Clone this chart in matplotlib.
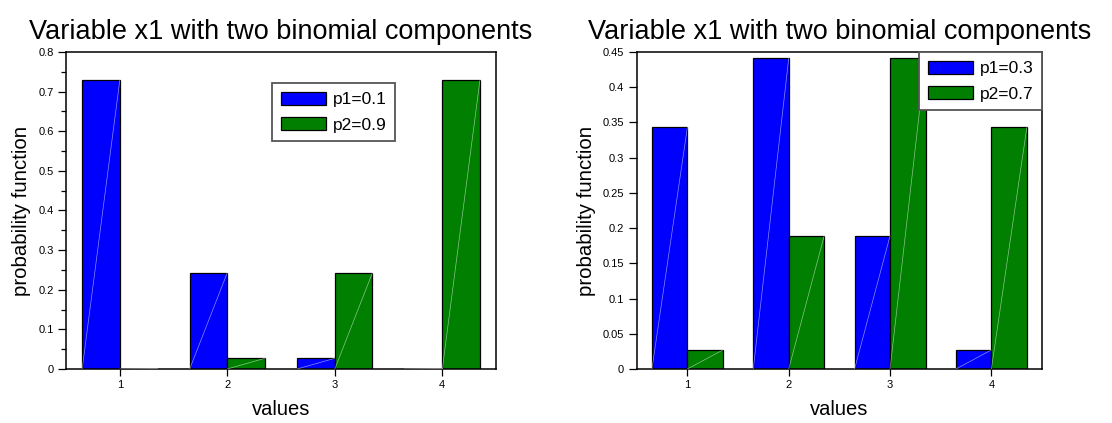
import numpy as np
import matplotlib.pyplot as plt

plt.rcParams['font.family'] = ['Liberation Sans', 'DejaVu Sans']

# Binomial pmf (n=3) para cada componente
valores = [1, 2, 3, 4]
izq_p1 = [0.729, 0.243, 0.027, 0.001]
izq_p2 = [0.001, 0.027, 0.243, 0.729]
der_p1 = [0.343, 0.441, 0.189, 0.027]
der_p2 = [0.027, 0.189, 0.441, 0.343]

titulo = 'Variable x1 with two binomial components'
AZUL = '#0000FF'
VERDE = '#007F00'
ANCHO = 0.35

fig = plt.figure(figsize=(11.12, 4.23), dpi=100)
ax1 = fig.add_axes([0.0594, 0.1277, 0.3867, 0.7494])
ax2 = fig.add_axes([0.5726, 0.1277, 0.3645, 0.7494])


def diagonal(ax, barras):
    # linea clara de esquina a esquina en cada barra
    for b in barras:
        x0, y0 = b.get_x(), b.get_y()
        ax.plot([x0, x0 + b.get_width()], [y0, y0 + b.get_height()],
                color='white', lw=0.5, alpha=0.55, zorder=3)


def plotAx(ax, s1, s2, lab1, lab2, ymax, ystep, menores):
    x = np.array(valores)
    b1 = ax.bar(x - ANCHO / 2, s1, ANCHO, color=AZUL, edgecolor='black', lw=0.9, label=lab1, zorder=2)
    b2 = ax.bar(x + ANCHO / 2, s2, ANCHO, color=VERDE, edgecolor='black', lw=0.9, label=lab2, zorder=2)
    diagonal(ax, b1)
    diagonal(ax, b2)
    ax.set_xlim(0.5, 4.5)
    ax.set_ylim(0, ymax)
    ax.set_xticks(valores)
    ax.set_yticks(np.arange(0, ymax + 1e-9, ystep))
    ax.set_yticklabels(['0'] + ['%g' % v for v in np.arange(ystep, ymax + 1e-9, ystep)])
    if menores:
        ax.set_yticks(np.arange(0, ymax + 1e-9, ystep / 2), minor=True)
    ax.tick_params(axis='both', labelsize=8, direction='out', length=6, width=0.9, pad=3)
    ax.tick_params(axis='y', which='minor', length=3.5, width=0.9)
    ax.tick_params(axis='x', length=5, pad=3)
    for s in ax.spines.values():
        s.set_linewidth(1.1)
    ax.set_title(titulo, fontsize=19.5, pad=9)
    ax.set_xlabel('values', fontsize=14.5, labelpad=7)
    ax.set_ylabel('probability function', fontsize=14.7, labelpad=5)


plotAx(ax1, izq_p1, izq_p2, 'p1=0.1', 'p2=0.9', 0.8, 0.1, True)
plotAx(ax2, der_p1, der_p2, 'p1=0.3', 'p2=0.7', 0.45, 0.05, False)

leg1 = ax1.legend(loc='upper left', bbox_to_anchor=(0.479, 0.902), fontsize=12.5,
                  fancybox=False, edgecolor='#555555', handlelength=2.6, handleheight=0.8,
                  handletextpad=0.4, borderpad=0.5, labelspacing=0.55, borderaxespad=0)
leg2 = ax2.legend(loc='upper right', fontsize=12.5,
                  fancybox=False, edgecolor='#555555', handlelength=2.6, handleheight=0.8,
                  handletextpad=0.4, borderpad=0.5, labelspacing=0.55, borderaxespad=0)
for lg in (leg1, leg2):
    lg.get_frame().set_linewidth(1.3)
    lg.get_frame().set_alpha(1)

fig.savefig('out.png', dpi=100)
